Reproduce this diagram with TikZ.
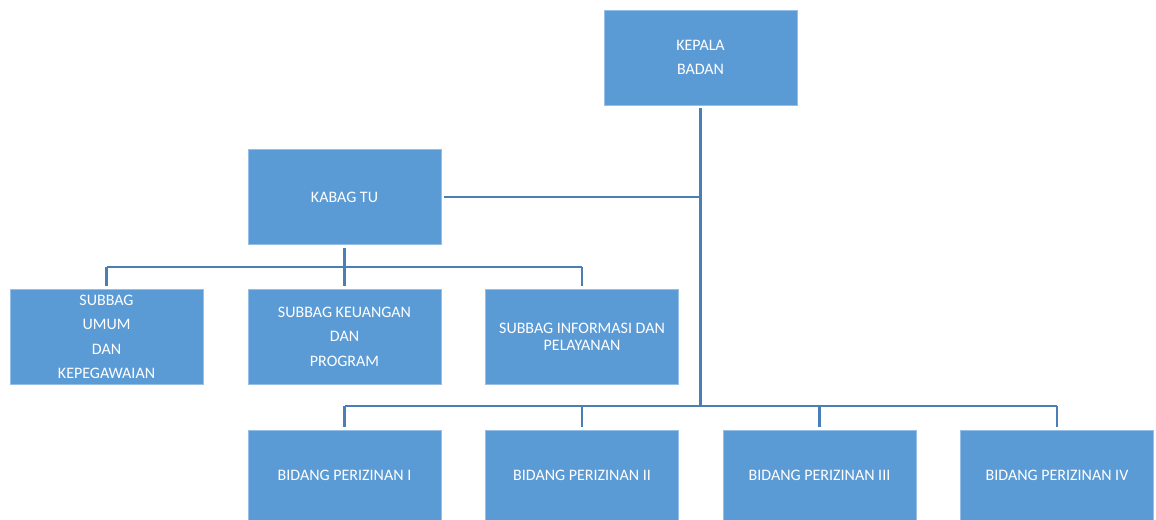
\documentclass[tikz,border=0pt]{standalone}
\usepackage{fontspec}
\setmainfont{Carlito}
\definecolor{boxfill}{RGB}{91,155,213}
\definecolor{boxedge}{RGB}{150,190,230}
\definecolor{conn}{RGB}{74,126,182}
\tikzset{
  orgbox/.style={rectangle, fill=boxfill, draw=boxedge, line width=0.4pt,
    minimum width=144.75pt, minimum height=71.25pt, inner sep=0pt,
    text=white, align=center, font=\fontsize{12}{18.4}\selectfont},
  lowbox/.style={orgbox, minimum height=67.5pt},
  mainline/.style={draw=conn, line width=2.4pt},
  branch/.style={draw=conn, line width=1.9pt},
}
\begin{document}
\begin{tikzpicture}[x=0.75pt, y=-0.75pt]
\useasboundingbox (0,0) rectangle (1156,520);
% boxes
\node[orgbox] (kepala) at (700.5,57.5) {KEPALA\\BADAN};
\node[orgbox] (kabag) at (344.5,197) {KABAG TU};
\node[orgbox] (s1) at (106.5,336.7) {SUBBAG\\UMUM\\DAN\\KEPEGAWAIAN};
\node[orgbox] (s2) at (344.5,336.7) {SUBBAG KEUANGAN\\DAN\\PROGRAM};
\node[orgbox, font=\fontsize{12}{13}\selectfont] (s3) at (582,336.7) {SUBBAG INFORMASI DAN\\PELAYANAN};
\node[lowbox] (b1) at (344.5,475) {BIDANG PERIZINAN I};
\node[lowbox] (b2) at (582,475) {BIDANG PERIZINAN II};
\node[lowbox] (b3) at (819.5,475) {BIDANG PERIZINAN III};
\node[lowbox] (b4) at (1057,475) {BIDANG PERIZINAN IV};
% junctions
\coordinate (j1) at (700.5,197);
\coordinate (j2) at (700.5,406);
\coordinate (k1) at (344.5,267);
% main spine
\draw[mainline, shorten <=2.25pt] (kepala.south) -- (j2);
\draw[branch, shorten <=2.25pt] (kabag.east) -- (j1);
% kabag branch
\draw[branch, shorten <=2.25pt] (kabag.south) -- (k1);
\draw[branch] (s1.north |- k1) -- (s3.north |- k1);
\draw[branch, shorten >=2.25pt] (s1.north |- k1) -- (s1.north);
\draw[branch, shorten >=2.25pt] (s2.north |- k1) -- (s2.north);
\draw[branch, shorten >=2.25pt] (s3.north |- k1) -- (s3.north);
% bidang branch
\draw[branch] (b1.north |- j2) -- (b4.north |- j2);
\draw[branch, shorten >=2.25pt] (b1.north |- j2) -- (b1.north);
\draw[branch, shorten >=2.25pt] (b2.north |- j2) -- (b2.north);
\draw[branch, shorten >=2.25pt] (b3.north |- j2) -- (b3.north);
\draw[branch, shorten >=2.25pt] (b4.north |- j2) -- (b4.north);
\end{tikzpicture}
\end{document}
